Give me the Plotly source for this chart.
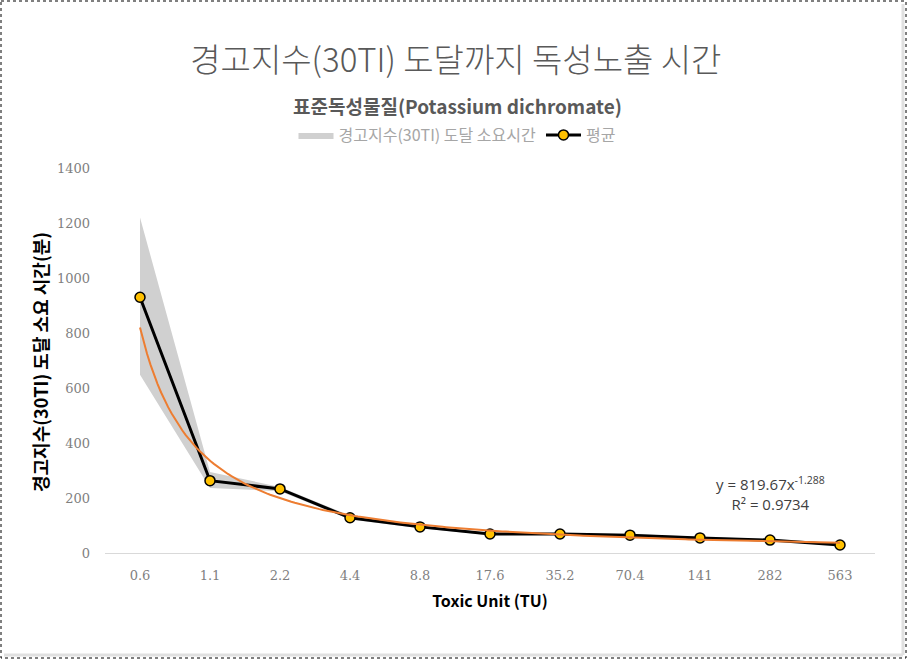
import numpy as np
import plotly.graph_objects as go

# ---- data ----
categories = ["0.6", "1.1", "2.2", "4.4", "8.8", "17.6", "35.2", "70.4", "141", "282", "563"]
mean_minutes = [930, 263, 233, 128, 95, 69, 69, 65, 55, 47, 29]
band_upper = [1220, 295, 240, 136, 100, 73, 72, 69, 59, 50, 32]
band_lower = [648, 236, 225, 122, 90, 65, 66, 62, 52, 44, 26]
y_ticks = [0, 200, 400, 600, 800, 1000, 1200, 1400]
trend_a = 819.67
trend_b = -1.288
trend_r2 = 0.9734

x_idx = list(range(1, len(categories) + 1))

# plot-area pixel geometry
W, H = 908, 661
L, R, T, B = 105, 875, 168, 553

def px(p):
    return (p - L) / (R - L)

def py(p):
    return (B - p) / (B - T)

fig = go.Figure()

fig.add_trace(go.Scatter(
    x=x_idx, y=band_lower, mode="lines", line=dict(width=0, color="rgba(0,0,0,0)"),
    showlegend=False, hoverinfo="skip"))
fig.add_trace(go.Scatter(
    x=x_idx, y=band_upper, mode="lines", line=dict(width=0, color="#d0d0d0"),
    fill="tonexty", fillcolor="#d0d0d0", name="경고지수(30TI) 도달 소요시간"))

fig.add_trace(go.Scatter(
    x=x_idx, y=mean_minutes, mode="lines+markers", name="평균",
    line=dict(color="black", width=3),
    marker=dict(symbol="circle", size=10, color="#FFC000", line=dict(color="black", width=1.5))))

tx = np.linspace(1, len(categories), 200)
fig.add_trace(go.Scatter(
    x=tx, y=trend_a * tx ** trend_b, mode="lines", line=dict(color="#ED7D31", width=2),
    showlegend=False, hoverinfo="skip"))

fig.update_layout(
    width=W, height=H,
    margin=dict(l=L, r=W - R, t=T, b=H - B),
    paper_bgcolor="white", plot_bgcolor="white",
    font=dict(family="Noto Sans CJK KR", color="#595959"),
    title=dict(text="경고지수(30TI) 도달까지 독성노출 시간", x=0.502, xref="container",
               y=1 - 60 / H, yref="container", xanchor="center", yanchor="middle",
               font=dict(size=33, color="#595959", family="Noto Sans CJK KR", weight=300)),
    legend=dict(orientation="h", x=px(457), y=py(135), xanchor="center", yanchor="middle",
                traceorder="normal",
                font=dict(size=16, color="#a6a6a6", family="Noto Sans CJK KR"),
                bgcolor="rgba(0,0,0,0)", itemwidth=35, tracegroupgap=0),
    showlegend=True,
)

fig.update_xaxes(
    range=[0.5, len(categories) + 0.5], tickmode="array", tickvals=x_idx, ticktext=categories,
    showgrid=False, zeroline=False, showline=True, linecolor="#d9d9d9", linewidth=1,
    ticks="", ticklabelstandoff=10,
    tickfont=dict(family="DejaVu Serif", size=13, color="#7f7f7f"),
    title=dict(text="<b>Toxic Unit (TU)</b>", standoff=14,
               font=dict(family="Noto Sans CJK KR", size=16, color="black")),
)
fig.update_yaxes(
    range=[0, 1400], tickmode="array", tickvals=y_ticks,
    showgrid=False, zeroline=False, showline=False, ticks="", ticklabelstandoff=14,
    tickfont=dict(family="DejaVu Serif", size=13, color="#7f7f7f"),
)

fig.add_annotation(
    text="<b>경고지수(30TI) 도달 소요 시간(분)</b>", xref="paper", yref="paper",
    x=px(40), y=py(362), textangle=-90, showarrow=False, xanchor="center", yanchor="middle",
    font=dict(family="Noto Sans CJK KR", size=18, color="black"))

fig.add_annotation(
    text="<b>표준독성물질(Potassium dichromate)</b>", xref="paper", yref="paper",
    x=px(457), y=py(105), showarrow=False, xanchor="center", yanchor="middle",
    font=dict(family="Noto Sans CJK KR", size=19, color="#595959"))

fig.add_annotation(
    text=f"y = {trend_a}x<sup>{trend_b}</sup><br>R² = {trend_r2}", xref="paper", yref="paper",
    x=px(770), y=py(493), showarrow=False, xanchor="center", yanchor="middle", align="center",
    font=dict(family="Open Sans", size=15, color="#404040"))

# chart frame (dashed border with a light shadow)
fig.add_shape(type="line", xref="paper", yref="paper", x0=px(903), x1=px(903), y0=py(4), y1=py(655),
              line=dict(color="#e0e0e0", width=3))
fig.add_shape(type="line", xref="paper", yref="paper", x0=px(4), x1=px(903), y0=py(655), y1=py(655),
              line=dict(color="#e0e0e0", width=3))
fig.add_shape(type="rect", xref="paper", yref="paper", x0=px(1), x1=px(906), y0=py(1), y1=py(658),
              line=dict(color="black", width=1, dash="dot"))

fig.write_html("out.html")
